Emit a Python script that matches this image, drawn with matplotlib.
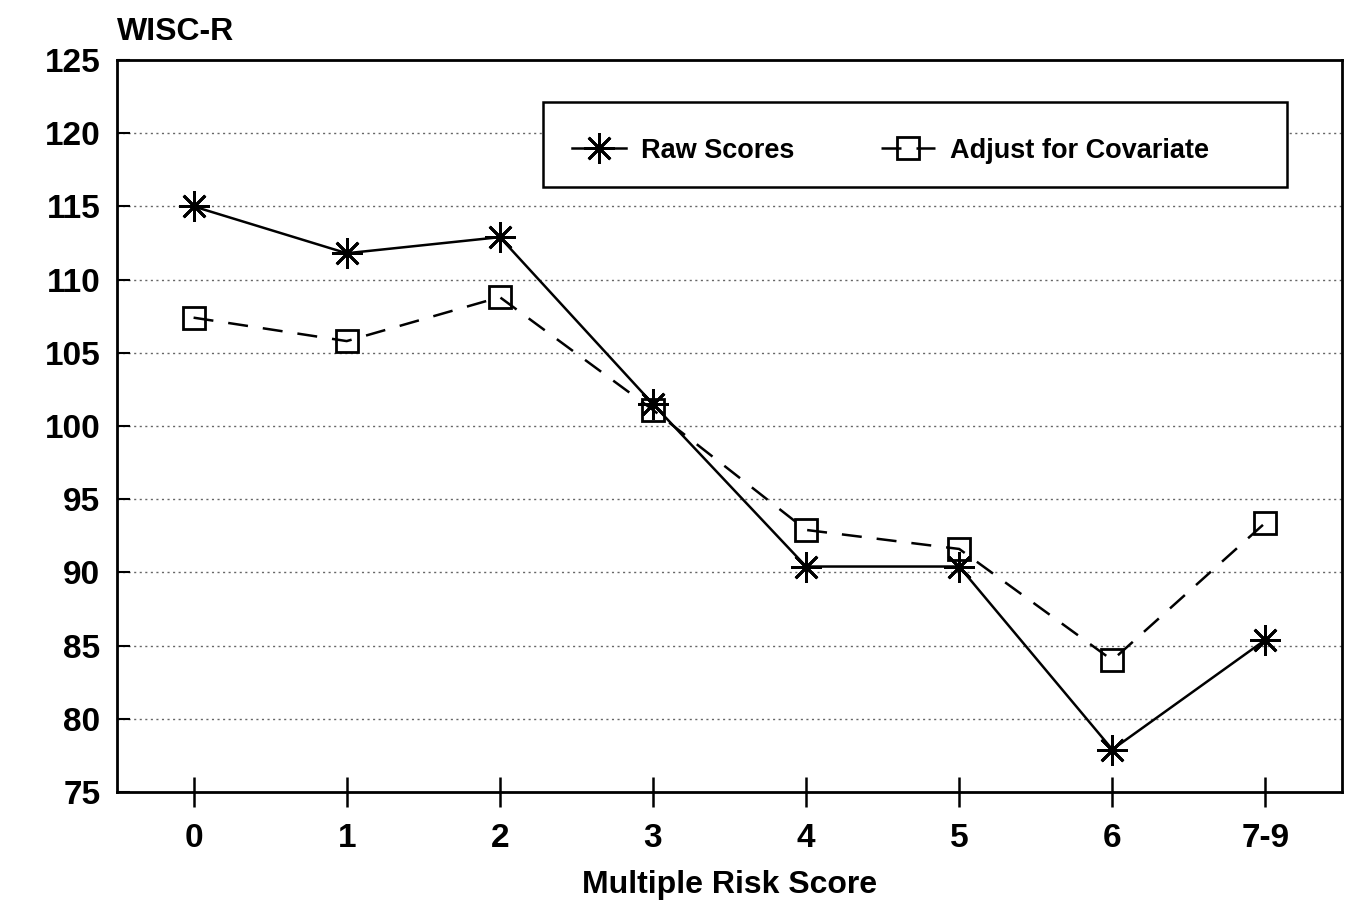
import matplotlib
matplotlib.use("Agg")
import matplotlib.pyplot as plt
from matplotlib.patches import Rectangle

categories = ["0", "1", "2", "3", "4", "5", "6", "7-9"]
raw_scores = [115.0, 111.8, 112.9, 101.5, 90.4, 90.4, 77.9, 85.4]
adjusted_scores = [107.4, 105.8, 108.8, 101.1, 92.9, 91.6, 84.0, 93.4]
y_ticks = [75, 80, 85, 90, 95, 100, 105, 110, 115, 120, 125]

plt.rcParams['font.family'] = ['Liberation Sans', 'DejaVu Sans']
plt.rcParams['font.weight'] = 'bold'

fig = plt.figure(figsize=(13.56, 9.01), dpi=100)
ax = fig.add_axes([0.0863, 0.121, 0.9034, 0.8124])

x = list(range(len(categories)))
asterisk = (8, 2, 0)
ax.plot(x, raw_scores, color='black', lw=1.8, marker=asterisk,
        markersize=22, markeredgewidth=2.0, label='Raw Scores', zorder=3)
ax.plot(x, adjusted_scores, color='black', lw=1.8, dashes=(8, 6),
        marker='s', markersize=16, markerfacecolor='none',
        markeredgewidth=2.0, label='Adjust for Covariate', zorder=3)

ax.set_xlim(-0.5, 7.5)
ax.set_ylim(75, 125)
ax.set_xticks(x)
ax.set_xticklabels(categories)
ax.set_yticks(y_ticks)

for yv in y_ticks[1:-1]:
    ax.axhline(yv, color='#666666', lw=1.0, ls=(0, (1.5, 2.5)), zorder=1)

ax.tick_params(axis='y', direction='in', length=9, width=1.5, pad=12,
               labelsize=24)
ax.tick_params(axis='x', direction='inout', length=22, width=1.8, pad=11,
               labelsize=24)
for lab in ax.get_xticklabels() + ax.get_yticklabels():
    lab.set_fontweight('bold')

for sp in ax.spines.values():
    sp.set_linewidth(2.0)
    sp.set_color('black')

ax.set_xlabel('Multiple Risk Score', fontsize=23, fontweight='bold', labelpad=12)
fig.text(0.086, 0.956, 'WISC-R', fontsize=23, fontweight='bold',
         ha='left', va='baseline')

# legend frame
ax.add_patch(Rectangle((0.348, 0.826), 0.607, 0.117, transform=ax.transAxes,
                       facecolor='white', edgecolor='black', lw=1.8, zorder=4))
leg = ax.legend(loc='center left', bbox_to_anchor=(0.371, 0.876),
                ncol=2, fontsize=19.5, frameon=False, handlelength=2.0,
                borderaxespad=0, borderpad=0, handletextpad=0.55,
                columnspacing=3.2)
leg.set_zorder(5)
for t in leg.get_texts():
    t.set_fontweight('bold')

fig.savefig('out.png', dpi=100)
